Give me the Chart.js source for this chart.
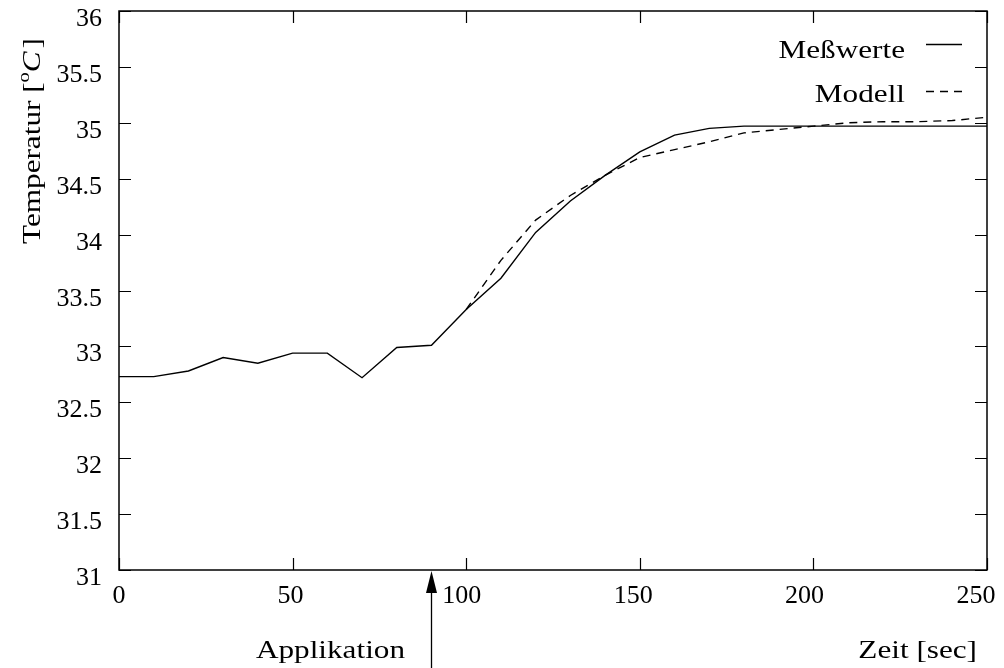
<!DOCTYPE html>
<html>
<head>
<meta charset="utf-8">
<script src="https://cdn.jsdelivr.net/npm/chart.js@4.4.1/dist/chart.umd.min.js"></script>
<style>
  html, body { margin: 0; padding: 0; background: #fff; }
  #wrap { width: 1004px; height: 668px; position: relative; }
</style>
</head>
<body>
<div id="wrap"><canvas id="grafico"></canvas></div>
<script>
/* dados */
const zeit = [0, 10, 20, 30, 40, 50, 60, 70, 80, 90, 100, 110, 120, 130, 140, 150, 160, 170, 180, 190, 200, 210, 220, 230, 240, 250];
const messwerte = [32.73, 32.73, 32.78, 32.90, 32.85, 32.94, 32.94, 32.72, 32.99, 33.01, 33.33, 33.61, 34.02, 34.30, 34.53, 34.74, 34.89, 34.95, 34.97, 34.97, 34.97, 34.97, 34.97, 34.97, 34.97, 34.97];
const modellZeit = [100, 110, 120, 130, 140, 150, 160, 170, 180, 190, 200, 210, 220, 230, 240, 250];
const modell = [33.33, 33.77, 34.13, 34.35, 34.53, 34.69, 34.76, 34.83, 34.91, 34.94, 34.97, 35.00, 35.01, 35.01, 35.02, 35.05];

const xTicks = [0, 50, 100, 150, 200, 250];
const yTicks = [31, 31.5, 32, 32.5, 33, 33.5, 34, 34.5, 35, 35.5, 36];

const serieNomes = ["Meßwerte", "Modell"];
const xTitulo = "Zeit [sec]";
const marcaTexto = "Applikation";
const marcaZeit = 90;

/* ===== estilo ===== */
const FONTE = "Liberation Serif, Times New Roman, serif";
const TAM = 26;
const SX = 1.2; // palavras mais largas, como no original

function texto(ctx, s, x, y, align, opts = {}) {
  const size = opts.size || TAM;
  const sx = opts.sx || SX;
  ctx.save();
  ctx.translate(x, y);
  ctx.scale(sx, 1);
  ctx.font = (opts.italic ? "italic " : "") + size + "px " + FONTE;
  ctx.fillStyle = "#000";
  ctx.textAlign = align;
  ctx.textBaseline = opts.baseline || "alphabetic";
  ctx.fillText(s, 0, 0);
  ctx.restore();
}

const moldura = {
  id: "moldura",
  afterDraw(chart) {
    const { ctx, chartArea: a, scales } = chart;
    const sx = scales.x, sy = scales.y;
    ctx.save();
    ctx.strokeStyle = "#000";
    ctx.lineWidth = 1.5;
    ctx.strokeRect(a.left, a.top, a.right - a.left, a.bottom - a.top);

    // ticks para dentro, nos quatro lados
    const T = 12;
    ctx.beginPath();
    xTicks.forEach(v => {
      const px = Math.round(sx.getPixelForValue(v)) + 0.5;
      ctx.moveTo(px, a.bottom); ctx.lineTo(px, a.bottom - T);
      ctx.moveTo(px, a.top); ctx.lineTo(px, a.top + T);
    });
    yTicks.forEach(v => {
      const py = Math.round(sy.getPixelForValue(v)) + 0.5;
      ctx.moveTo(a.left, py); ctx.lineTo(a.left + T, py);
      ctx.moveTo(a.right, py); ctx.lineTo(a.right - T, py);
    });
    ctx.lineWidth = 1.2;
    ctx.stroke();

    // rótulos dos ticks (os de 3 dígitos ficam um pouco à esquerda no original)
    xTicks.forEach(v => texto(ctx, String(v), sx.getPixelForValue(v) - v / 250 * 11, a.bottom + 33, "center", { sx: 1 }));
    yTicks.forEach(v => texto(ctx, String(v), a.left - 17, sy.getPixelForValue(v) + 15, "right", { sx: 1 }));

    // título do eixo y (rodado)
    ctx.save();
    ctx.translate(40, 141);
    ctx.rotate(-Math.PI / 2);
    const partes = [
      { s: "Temperatur [", dy: 0, size: TAM },
      { s: "o", dy: -11, size: 17 },
      { s: "C", dy: 0, size: TAM, italic: true },
      { s: "]", dy: 0, size: TAM }
    ];
    let total = 0;
    partes.forEach(p => {
      ctx.font = (p.italic ? "italic " : "") + p.size + "px " + FONTE;
      p.w = ctx.measureText(p.s).width * SX + (p.italic ? 3 : 0);
      total += p.w;
    });
    let cx = -total / 2;
    partes.forEach(p => {
      texto(ctx, p.s, cx, p.dy, "left", { size: p.size, italic: p.italic });
      cx += p.w;
    });
    ctx.restore();

    // título do eixo x e marca "Applikation"
    texto(ctx, xTitulo, 977, 658, "right");
    texto(ctx, marcaTexto, 405, 658, "right");
    const ax = Math.round(sx.getPixelForValue(marcaZeit)) + 0.5;
    ctx.beginPath();
    ctx.moveTo(ax, 668); ctx.lineTo(ax, a.bottom + 18);
    ctx.lineWidth = 1.3;
    ctx.stroke();
    ctx.beginPath();
    ctx.moveTo(ax, a.bottom + 1);
    ctx.lineTo(ax - 5.5, a.bottom + 23);
    ctx.lineTo(ax + 5.5, a.bottom + 23);
    ctx.closePath();
    ctx.fillStyle = "#000";
    ctx.fill();

    // legenda
    const legY = [{ txt: 58, lin: 44.5 }, { txt: 102, lin: 91.5 }];
    chart.data.datasets.forEach((ds, i) => {
      texto(ctx, ds.label, 905, legY[i].txt, "right");
      ctx.beginPath();
      ctx.setLineDash(ds.borderDash || []);
      ctx.lineWidth = ds.borderWidth;
      ctx.moveTo(926, legY[i].lin); ctx.lineTo(962, legY[i].lin);
      ctx.stroke();
      ctx.setLineDash([]);
    });
    ctx.restore();
  }
};

const ctx = document.getElementById("grafico").getContext("2d");
new Chart(ctx, {
  type: "line",
  data: {
    datasets: [
      {
        label: serieNomes[0],
        data: zeit.map((t, i) => ({ x: t, y: messwerte[i] })),
        borderColor: "#000",
        borderWidth: 1.4,
        pointRadius: 0,
        tension: 0
      },
      {
        label: serieNomes[1],
        data: modellZeit.map((t, i) => ({ x: t, y: modell[i] })),
        borderColor: "#000",
        borderWidth: 1.4,
        borderDash: [8, 6],
        pointRadius: 0,
        tension: 0
      }
    ]
  },
  options: {
    responsive: true,
    maintainAspectRatio: false,
    animation: false,
    layout: { padding: { left: 119, right: 17, top: 11, bottom: 98 } },
    plugins: { legend: { display: false }, tooltip: { enabled: false } },
    scales: {
      x: { type: "linear", min: 0, max: 250, display: false },
      y: { type: "linear", min: 31, max: 36, display: false }
    }
  },
  plugins: [moldura]
});
</script>
</body>
</html>
